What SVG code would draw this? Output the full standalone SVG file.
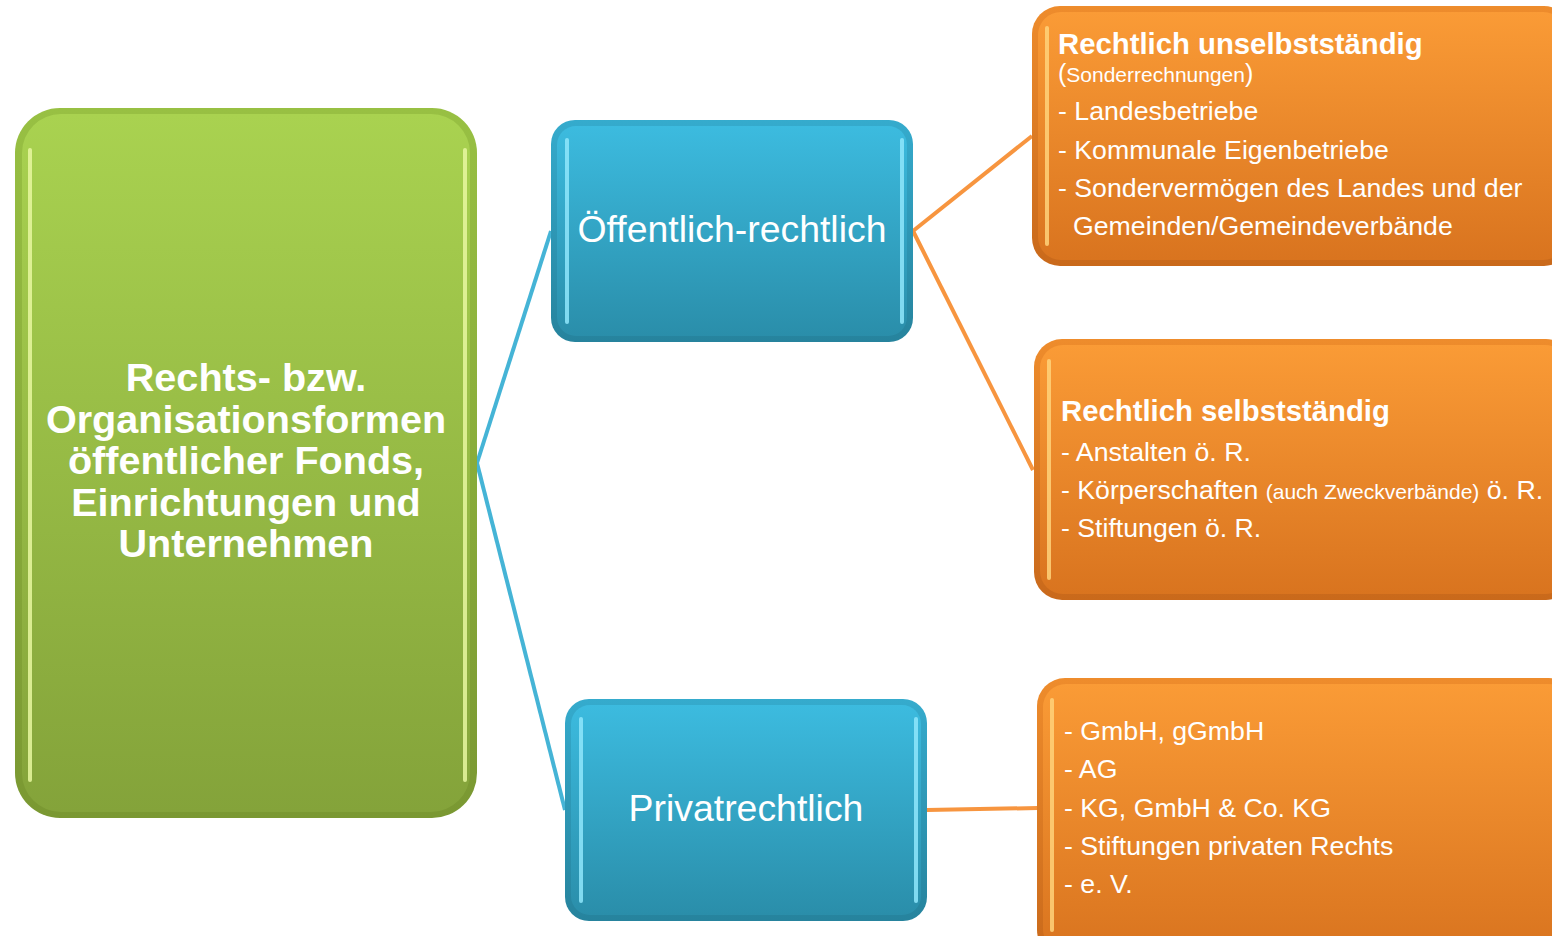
<svg xmlns="http://www.w3.org/2000/svg" width="1552" height="936" viewBox="0 0 1552 936">
<defs>
<linearGradient id="gG" x1="0" y1="0" x2="0" y2="1"><stop offset="0" stop-color="#a9d250"/><stop offset="1" stop-color="#84a33a"/></linearGradient>
<linearGradient id="gGo" x1="0" y1="0" x2="0" y2="1"><stop offset="0" stop-color="#98c043"/><stop offset="1" stop-color="#7a9832"/></linearGradient>
<linearGradient id="gB" x1="0" y1="0" x2="0" y2="1"><stop offset="0" stop-color="#3cbbdf"/><stop offset="1" stop-color="#2a8eaa"/></linearGradient>
<linearGradient id="gBo" x1="0" y1="0" x2="0" y2="1"><stop offset="0" stop-color="#35abcd"/><stop offset="1" stop-color="#26839d"/></linearGradient>
<linearGradient id="gO" x1="0" y1="0" x2="0" y2="1"><stop offset="0" stop-color="#fa9b36"/><stop offset="1" stop-color="#d9741f"/></linearGradient>
<linearGradient id="gOo" x1="0" y1="0" x2="0" y2="1"><stop offset="0" stop-color="#ee8c2c"/><stop offset="1" stop-color="#c9691b"/></linearGradient>
</defs>
<style>
.t{font-family:"Liberation Sans",Arial,sans-serif;fill:#ffffff}
.b{font-weight:bold}
.hlG{fill:none;stroke:#e8f7a0;stroke-width:4;opacity:0.85;stroke-linecap:round}
.hlB{fill:none;stroke:#8fe6fb;stroke-width:4;opacity:0.85;stroke-linecap:round}
.hlO{fill:none;stroke:#ffd27a;stroke-width:4;opacity:0.85;stroke-linecap:round}
.cb{fill:none;stroke:#45b4d6;stroke-width:4}
.co{fill:none;stroke:#f7953f;stroke-width:4}
.li{font-size:26.7px}
</style>
<rect width="1552" height="936" fill="#ffffff"/>
<g id="connectors">
<path class="cb" d="M477,463 L551,231"/>
<path class="cb" d="M477,463 L565,810"/>
<path class="co" d="M913,231 L1032,136"/>
<path class="co" d="M913,231 L1033,470"/>
<path class="co" d="M927,810 L1038,808"/>
</g>
<g id="root">
<rect x="15" y="108" width="462" height="710" rx="45" fill="url(#gGo)"/>
<rect x="22" y="114" width="448" height="698" rx="39" fill="url(#gG)"/>
<path class="hlG" d="M30,150 L30,780"/>
<path class="hlG" d="M465,150 L465,780" opacity="0.45"/>
<text class="t b" font-size="39.6" text-anchor="middle"><tspan x="246" y="391">Rechts- bzw.</tspan><tspan x="246" y="433">Organisationsformen</tspan><tspan x="246" y="474">öffentlicher Fonds,</tspan><tspan x="246" y="516">Einrichtungen und</tspan><tspan x="246" y="557">Unternehmen</tspan></text>
</g>
<g id="oeffentlich">
<rect x="551" y="120" width="362" height="222" rx="24" fill="url(#gBo)"/>
<rect x="557" y="126" width="350" height="210" rx="19" fill="url(#gB)"/>
<path class="hlB" d="M567,140 L567,322"/>
<path class="hlB" d="M902,140 L902,322" opacity="0.45"/>
<text class="t" font-size="37.4" x="732" y="242" text-anchor="middle">Öffentlich-rechtlich</text>
</g>
<g id="privat">
<rect x="565" y="699" width="362" height="222" rx="24" fill="url(#gBo)"/>
<rect x="571" y="705" width="350" height="210" rx="19" fill="url(#gB)"/>
<path class="hlB" d="M581,719 L581,901"/>
<path class="hlB" d="M916,719 L916,901" opacity="0.45"/>
<text class="t" font-size="37.4" x="746" y="821" text-anchor="middle">Privatrechtlich</text>
</g>
<g id="unselbst">
<rect x="1032" y="6" width="540" height="260" rx="28" fill="url(#gOo)"/>
<rect x="1038" y="12" width="528" height="248" rx="23" fill="url(#gO)"/>
<path class="hlO" d="M1047,28 L1047,244"/>
<text class="t b" font-size="29.3" x="1058" y="54">Rechtlich unselbstständig</text>
<text class="t" x="1058" y="82"><tspan font-size="25">(</tspan><tspan font-size="21">Sonderrechnungen</tspan><tspan font-size="25">)</tspan></text>
<text class="t li" x="1058" y="120">- Landesbetriebe</text>
<text class="t li" x="1058" y="159">- Kommunale Eigenbetriebe</text>
<text class="t li" x="1058" y="197">- Sondervermögen des Landes und der</text>
<text class="t li" x="1073" y="235">Gemeinden/Gemeindeverbände</text>
</g>
<g id="selbst">
<rect x="1034" y="339" width="540" height="261" rx="28" fill="url(#gOo)"/>
<rect x="1040" y="345" width="528" height="249" rx="23" fill="url(#gO)"/>
<path class="hlO" d="M1049,361 L1049,578"/>
<text class="t b" font-size="29.3" x="1061" y="421">Rechtlich selbstständig</text>
<text class="t li" x="1061" y="461">- Anstalten ö. R.</text>
<text class="t li" x="1061" y="499">- Körperschaften <tspan font-size="21">(auch Zweckverbände)</tspan> ö. R.</text>
<text class="t li" x="1061" y="537">- Stiftungen ö. R.</text>
</g>
<g id="privatformen">
<rect x="1037" y="678" width="540" height="280" rx="28" fill="url(#gOo)"/>
<rect x="1043" y="684" width="528" height="268" rx="23" fill="url(#gO)"/>
<path class="hlO" d="M1052,700 L1052,930"/>
<text class="t li" x="1064" y="740">- GmbH, gGmbH</text>
<text class="t li" x="1064" y="778">- AG</text>
<text class="t li" x="1064" y="817">- KG, GmbH &amp; Co. KG</text>
<text class="t li" x="1064" y="855">- Stiftungen privaten Rechts</text>
<text class="t li" x="1064" y="893">- e. V.</text>
</g>
</svg>
